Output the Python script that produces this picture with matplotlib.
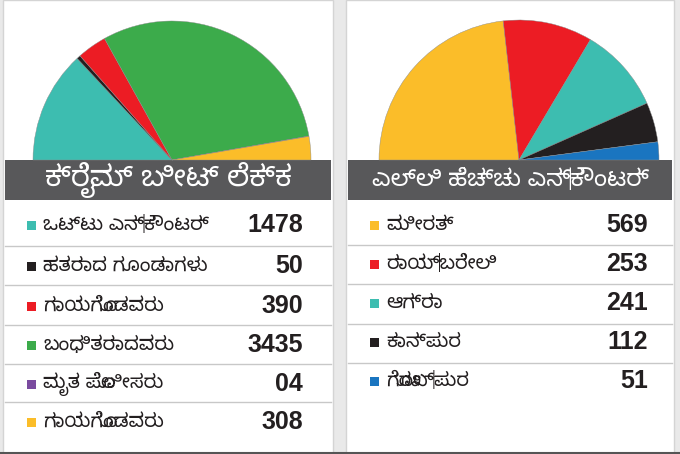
import matplotlib
matplotlib.use("Agg")
import matplotlib.pyplot as plt
from matplotlib.patches import Rectangle

# data
left_title = "ಕ್ರೈಮ್ ಬೀಟ್ ಲೆಕ್ಕ"
left_labels = ["ಒಟ್ಟು ಎನ್‌ಕೌಂಟರ್", "ಹತರಾದ ಗೂಂಡಾಗಳು", "ಗಾಯಗೊಂಡವರು",
               "ಬಂಧಿತರಾದವರು", "ಮೃತ ಪೊಲೀಸರು", "ಗಾಯಗೊಂಡವರು"]
left_values = [1478, 50, 390, 3435, 4, 308]
left_texts = ["1478", "50", "390", "3435", "04", "308"]
left_colors = ["#3dbdb0", "#231f20", "#ec1c24", "#3cab4b", "#7a4b9f", "#fbbd29"]

right_title = "ಎಲ್ಲಿ ಹೆಚ್ಚು ಎನ್‌ಕೌಂಟರ್"
right_labels = ["ಮೀರತ್", "ರಾಯ್‌ಬರೇಲಿ", "ಆಗ್ರಾ", "ಕಾನ್ಪುರ", "ಗೋರಖ್‌ಪುರ"]
right_values = [569, 253, 241, 112, 51]
right_texts = ["569", "253", "241", "112", "51"]
right_colors = ["#fbbd29", "#ec1c24", "#3dbdb0", "#231f20", "#1a75c0"]

W, H = 680, 454
fig = plt.figure(figsize=(W / 100, H / 100), dpi=100)
fig.patch.set_facecolor("white")
ax = fig.add_axes([0, 0, 1, 1])
ax.set_xlim(0, W)
ax.set_ylim(H, 0)
ax.axis("off")

kn_font = ["Noto Sans Kannada", "Noto Sans", "DejaVu Sans"]


def half_pie(cx, cy, r, values, colors):
    # pie centre at (cx, cy) px, only the upper half is used
    pax = fig.add_axes([(cx - r) / W, 1 - (cy + r) / H, 2 * r / W, 2 * r / H])
    total = sum(values)
    fracs = [v / total / 2 for v in values]
    pax.pie(fracs, colors=colors, startangle=180, counterclock=False,
            normalize=False, wedgeprops=dict(linewidth=0.3, edgecolor="#8a8a8a"))
    pax.set_xlim(-1, 1)
    pax.set_ylim(-1, 1)
    pax.axis("off")


def panel(x0, x1, title, title_size, labels, texts, colors, row_y, seps, num_x):
    ax.add_patch(Rectangle((x0, 0), x1 - x0, H, facecolor="white",
                           edgecolor="#d4d4d4", linewidth=1, zorder=1))
    # title bar
    ax.add_patch(Rectangle((x0 + 2, 160), x1 - x0 - 4, 40, facecolor="#58585a",
                           edgecolor="none", zorder=5))
    ax.text((x0 + x1) / 2, 180, title, color="white", fontsize=title_size,
            fontweight="bold", ha="center", va="center", family=kn_font, zorder=6)
    for i, (lab, txt, col) in enumerate(zip(labels, texts, colors)):
        y = row_y[i]
        ax.add_patch(Rectangle((x0 + 24, y - 4.5), 9, 9, facecolor=col,
                               edgecolor="none", zorder=3))
        ax.text(x0 + 40, y, lab, fontsize=14, ha="left", va="center",
                color="#231f20", family=kn_font, zorder=3)
        ax.text(num_x, y, txt, fontsize=18, fontweight="bold", ha="right",
                va="center", color="#231f20", family="Liberation Sans", zorder=3)
    for s in seps:
        ax.plot([x0 + 2, x1 - 2], [s, s], color="#c8c8c8", linewidth=1, zorder=2)


# grey background behind the two panels
ax.add_patch(Rectangle((0, 0), W, H, facecolor="#e9e9e9", edgecolor="none", zorder=0))

panel(3, 333, left_title, 21, left_labels, left_texts, left_colors,
      [225, 266, 306, 345, 384, 422], [246, 285, 325, 364, 402], 303)
panel(346, 674, right_title, 17, right_labels, right_texts, right_colors,
      [225, 264, 303, 342, 381], [245, 284, 324, 363], 648)

ax.plot([0, W], [452.5, 452.5], color="#555555", linewidth=1.5, zorder=4)

half_pie(172, 160, 139, left_values, left_colors)
half_pie(519, 160, 140, right_values, right_colors)

fig.savefig("out.png", dpi=100, facecolor=fig.get_facecolor())
